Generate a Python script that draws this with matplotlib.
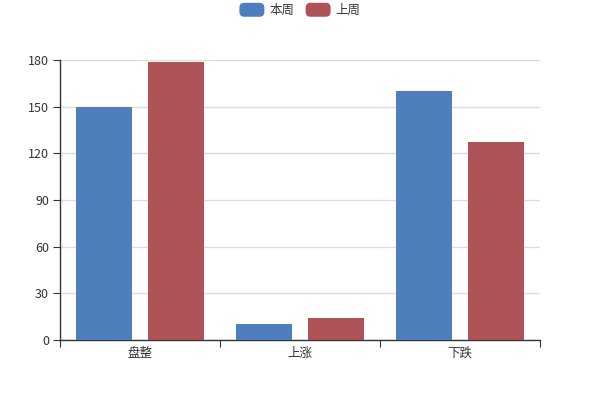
import matplotlib.pyplot as plt
import numpy as np
from matplotlib.patches import FancyBboxPatch, Rectangle
from matplotlib.legend_handler import HandlerPatch

plt.rcParams['font.family'] = ['Noto Sans CJK SC', 'DejaVu Sans']

categories = ['盘整', '上涨', '下跌']
series_names = ['本周', '上周']
this_week = [150, 10, 160]
last_week = [179, 14, 127]
y_ticks = [0, 30, 60, 90, 120, 150, 180]

BLUE = '#4e7ebb'
RED = '#ae5358'
TEXT = '#333333'


class RoundHandler(HandlerPatch):
    def create_artists(self, legend, orig_handle, xdescent, ydescent, width, height, fontsize, trans):
        p = FancyBboxPatch((-xdescent, -ydescent - 1), width, height + 2,
                           boxstyle='round,pad=0,rounding_size=3.5',
                           facecolor=orig_handle.get_facecolor(), edgecolor='none',
                           transform=trans)
        return [p]


fig = plt.figure(figsize=(6, 4), dpi=100)
ax = fig.add_axes([0.1, 0.15, 0.8, 0.7])

x = np.arange(len(categories))
w = 0.3475
off = 0.226
b1 = ax.bar(x - off, this_week, w, color=BLUE, label=series_names[0], zorder=3)
b2 = ax.bar(x + off, last_week, w, color=RED, label=series_names[1], zorder=3)

ax.set_xlim(-0.5, len(categories) - 0.5)
ax.set_ylim(0, 180)
ax.set_yticks(y_ticks)
ax.yaxis.grid(True, color='#dcdcdc', lw=1, zorder=0)
ax.set_axisbelow(True)

# category boundaries as ticks, labels in the middle
ax.set_xticks(np.arange(len(categories) + 1) - 0.5)
ax.set_xticklabels([])
ax.set_xticks(x, minor=True)
ax.set_xticklabels(categories, minor=True)
ax.tick_params(axis='x', which='minor', length=0, pad=5)
ax.tick_params(axis='x', which='major', length=5, color=TEXT)
ax.tick_params(axis='y', length=5, color=TEXT, pad=3)
ax.tick_params(which='both', labelsize=9, labelcolor=TEXT)

for s in ['top', 'right']:
    ax.spines[s].set_visible(False)
for s in ['left', 'bottom']:
    ax.spines[s].set_color(TEXT)
    ax.spines[s].set_linewidth(1)

fig.legend(handles=[b1.patches[0], b2.patches[0]], labels=series_names, loc='upper center',
           bbox_to_anchor=(0.5, 1.018), ncol=2, frameon=False, fontsize=9,
           handlelength=2.0, handleheight=1.0, handletextpad=0.4, columnspacing=0.9,
           labelcolor=TEXT, handler_map={Rectangle: RoundHandler()})

plt.savefig('out.png', dpi=100)
plt.close()
